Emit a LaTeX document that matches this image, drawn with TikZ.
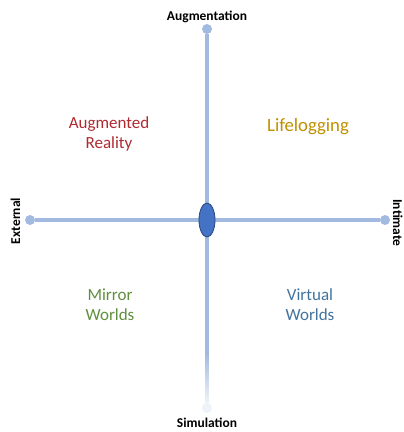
\documentclass[tikz,border=0pt]{standalone}
\usepackage{fontspec}
\setmainfont{Carlito}
\usetikzlibrary{positioning,shapes.geometric,fadings}

\definecolor{axe}{HTML}{A3BAE0}
\definecolor{bleucentre}{HTML}{4472C4}
\definecolor{bordcentre}{HTML}{2B4A80}
\definecolor{rouge}{HTML}{AE2A30}
\definecolor{or}{HTML}{BF9000}
\definecolor{vert}{HTML}{5F8F3E}
\definecolor{bleu}{HTML}{41729E}

\tikzfading[name=vers bas,
  top color=transparent!0,
  bottom color=transparent!85]

\tikzset{
  ligne/.style={draw=axe, line width=2.6pt},
  bout/.style={circle, fill=axe, minimum size=0.3cm, inner sep=0pt},
  titre/.style={font=\bfseries\fontsize{11.5}{14}\selectfont, anchor=base},
  quadrant/.style={font=\fontsize{14.5}{17}\selectfont, align=center}
}

\begin{document}
\begin{tikzpicture}[x=0.03cm,y=-0.03cm]

\useasboundingbox
(0,0)
rectangle
(403,432);

% Axes
\node[bout] (haut) at (207,29) {};
\node[bout] (gauche) at (30,220) {};
\node[bout] (droite) at (385,220) {};
\node[bout, fill=axe!18] (bas) at (207,408) {};
\coordinate (fondu) at (207,355);

\draw[ligne]
(haut)
--
(gauche -| haut);

\draw[ligne]
(gauche)
--
(droite);

\draw[ligne]
(gauche -| haut)
--
(fondu);

\draw[ligne, path fading=vers bas]
(fondu)
--
(bas);

\node[ellipse, fill=bleucentre, draw=bordcentre, line width=0.7pt,
  minimum width=0.48cm, minimum height=1.02cm, inner sep=0pt]
(centre)
at (207,220)
{};

% Titres
\node[titre] (augmentation) at (207,21) {Augmentation};
\node[titre] (simulation) at (207,427) {Simulation};
\node[titre, rotate=90] (external) at (20,221) {External};
\node[titre, rotate=-90] (intimate) at (393,223) {Intimate};

% Quadrants
\node[quadrant, text=rouge] (ar) at (109,134) {Augmented\\Reality};
\node[quadrant, text=or, font=\fontsize{16}{19}\selectfont] (life) at (308,127) {Lifelogging};
\node[quadrant, text=vert] (mirror) at (110,305) {Mirror\\Worlds};
\node[quadrant, text=bleu] (virtual) at (310,305) {Virtual\\Worlds};

\end{tikzpicture}
\end{document}
